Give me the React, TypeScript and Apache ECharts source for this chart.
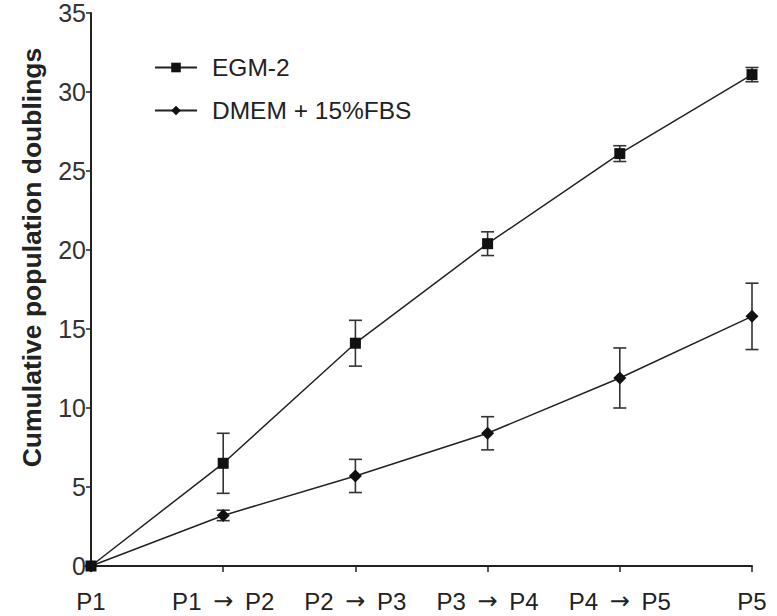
import React, { useEffect, useRef } from "react";
import * as echarts from "echarts";

const categories = ["P1", "P1 \u2192 P2", "P2 \u2192 P3", "P3 \u2192 P4", "P4 \u2192 P5", "P5"];
const egmValues = [0, 6.5, 14.1, 20.4, 26.1, 31.1];
const egmErrors = [0, 1.9, 1.45, 0.75, 0.5, 0.45];
const dmemValues = [0, 3.2, 5.7, 8.4, 11.9, 15.8];
const dmemErrors = [0, 0.33, 1.05, 1.05, 1.9, 2.1];
const yTicks = { min: 0, max: 35, interval: 5 };

const FONT = "Arial, 'Liberation Sans', sans-serif";

function errorSeries(name: string, values: number[], errors: number[]) {
  const data = values.map((v, i) => [i, v - errors[i], v + errors[i]]);
  return {
    name: name + " err",
    type: "custom",
    silent: true,
    z: 1,
    data,
    renderItem: (params: any, api: any) => {
      const i = api.value(0);
      const lo = api.coord([i, api.value(1)]);
      const hi = api.coord([i, api.value(2)]);
      if (Math.abs(hi[1] - lo[1]) < 1) return { type: "group", children: [] };
      const half = 6.5;
      const style = { stroke: "#333", lineWidth: 1.6 };
      return {
        type: "group",
        children: [
          { type: "line", shape: { x1: lo[0], y1: lo[1], x2: hi[0], y2: hi[1] }, style },
          { type: "line", shape: { x1: hi[0] - half, y1: hi[1], x2: hi[0] + half, y2: hi[1] }, style },
          { type: "line", shape: { x1: lo[0] - half, y1: lo[1], x2: lo[0] + half, y2: lo[1] }, style },
        ],
      };
    },
  };
}

export default function App() {
  const ref = useRef<HTMLDivElement>(null);
  useEffect(() => {
    if (!ref.current) return;
    const chart = echarts.init(ref.current, null, { renderer: "svg" });
    chart.setOption({
      animation: false,
      backgroundColor: "#ffffff",
      grid: { left: 91, right: 25, top: 13, bottom: 50, containLabel: false },
      legend: {
        left: 149,
        top: 50,
        orient: "vertical",
        itemWidth: 42,
        itemHeight: 12,
        itemGap: 18,
        data: ["EGM-2", "DMEM + 15%FBS"],
        textStyle: { fontFamily: FONT, fontSize: 24.5, color: "#222", padding: [0, 0, 0, 10] },
      },
      xAxis: {
        type: "category",
        data: categories,
        boundaryGap: false,
        axisLine: { lineStyle: { color: "#222", width: 2 } },
        axisTick: { show: true, length: 6, lineStyle: { color: "#222", width: 1.5 }, alignWithLabel: true },
        axisLabel: {
          fontFamily: FONT,
          fontSize: 24,
          color: "#222",
          margin: 23,
          interval: 0,
          formatter: (v: string) => v.replace("\u2192", "{a|\u2192}"),
          rich: {
            a: { fontFamily: "'DejaVu Sans', sans-serif", fontSize: 24, color: "#222", padding: [0, 5, 0, 5] },
          },
        },
        splitLine: { show: false },
      },
      yAxis: {
        type: "value",
        min: yTicks.min,
        max: yTicks.max,
        interval: yTicks.interval,
        name: "Cumulative population doublings",
        nameLocation: "middle",
        nameGap: 46,
        nameTextStyle: {
          fontFamily: FONT,
          fontSize: 26.5,
          fontWeight: "bold",
          color: "#222",
          padding: [0, 0, 0, 64],
        },
        axisLine: { show: true, lineStyle: { color: "#222", width: 2 } },
        axisTick: { show: true, length: 5, lineStyle: { color: "#222", width: 1.5 } },
        axisLabel: { fontFamily: FONT, fontSize: 25, color: "#333", margin: 5 },
        splitLine: { show: false },
      },
      series: [
        errorSeries("EGM-2", egmValues, egmErrors),
        errorSeries("DMEM + 15%FBS", dmemValues, dmemErrors),
        {
          name: "EGM-2",
          type: "line",
          data: egmValues,
          symbol: "rect",
          symbolSize: 11,
          showAllSymbol: true,
          z: 3,
          lineStyle: { color: "#222", width: 1.5 },
          itemStyle: { color: "#111" },
        },
        {
          name: "DMEM + 15%FBS",
          type: "line",
          data: dmemValues,
          symbol: "diamond",
          symbolSize: 13,
          showAllSymbol: true,
          z: 3,
          lineStyle: { color: "#222", width: 1.5 },
          itemStyle: { color: "#111" },
        },
      ],
    });
    return () => chart.dispose();
  }, []);
  return <div ref={ref} style={{ width: 777, height: 616, position: "absolute", left: 0, top: 0 }} />;
}
